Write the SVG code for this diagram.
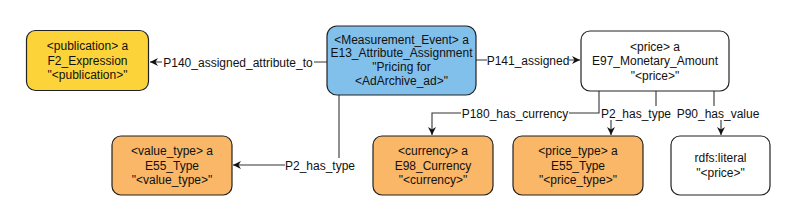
<svg xmlns="http://www.w3.org/2000/svg" width="797" height="221" viewBox="0 0 797 221">
<style>
.box{stroke:#222;stroke-width:1.2}
.t{font-family:"Liberation Sans",Arial,sans-serif;font-size:12px;fill:#111;text-anchor:middle}
.e{fill:none;stroke:#333;stroke-width:1.1}
.lbg{fill:#fff}
</style>
<defs>
<marker id="ar" markerWidth="10" markerHeight="10" refX="8" refY="5" orient="auto" markerUnits="userSpaceOnUse">
<path d="M0,1 L8,5 L0,9 L2.5,5 Z" fill="#111"/>
</marker>
</defs>
<rect width="797" height="221" fill="#fff"/>
<g id="connectors">
<path class="e" d="M327 62 H150" marker-end="url(#ar)"/>
<rect class="lbg" x="162" y="55" width="152" height="14"/>
<text class="t" x="238" y="66.5">P140_assigned_attribute_to</text>
<path class="e" d="M476 60 H580" marker-end="url(#ar)"/>
<rect class="lbg" x="487" y="53" width="82" height="14"/>
<text class="t" x="528" y="64.5">P141_assigned</text>
<path class="e" d="M339 95 V165 H233" marker-end="url(#ar)"/>
<rect class="lbg" x="285" y="158" width="70" height="14"/>
<text class="t" x="320" y="169.5">P2_has_type</text>
<path class="e" d="M599 91 V113 H432 V135" marker-end="url(#ar)"/>
<rect class="lbg" x="461" y="106" width="108" height="14"/>
<text class="t" x="515" y="117.5">P180_has_currency</text>
<path class="e" d="M656 91 V113 H611 V135" marker-end="url(#ar)"/>
<rect class="lbg" x="601" y="106" width="70" height="14"/>
<text class="t" x="636" y="117.5">P2_has_type</text>
<path class="e" d="M714 91 V113 H721 V135" marker-end="url(#ar)"/>
<rect class="lbg" x="676" y="106" width="84" height="14"/>
<text class="t" x="718" y="117.5">P90_has_value</text>
</g>
<g id="publication">
<rect class="box" x="26.5" y="30.5" width="122" height="60" rx="9" fill="#FCD43A"/>
<text class="t" x="87.5" y="50">&lt;publication&gt; a</text>
<text class="t" x="87.5" y="64.5">F2_Expression</text>
<text class="t" x="87.5" y="79">"&lt;publication&gt;"</text>
</g>
<g id="measurement">
<rect class="box" x="327" y="26" width="149" height="69" rx="10" fill="#82C0EC"/>
<text class="t" x="401.5" y="43.5">&lt;Measurement_Event&gt; a</text>
<text class="t" x="401.5" y="57">E13_Attribute_Assignment</text>
<text class="t" x="401.5" y="71">"Pricing for</text>
<text class="t" x="401.5" y="84.5">&lt;AdArchive_ad&gt;"</text>
</g>
<g id="price">
<rect class="box" x="581" y="31" width="148" height="60" rx="9" fill="#fff"/>
<text class="t" x="655" y="50.5">&lt;price&gt; a</text>
<text class="t" x="655" y="65">E97_Monetary_Amount</text>
<text class="t" x="655" y="79.5">"&lt;price&gt;"</text>
</g>
<g id="value_type">
<rect class="box" x="112" y="136" width="120" height="59" rx="9" fill="#F9B767"/>
<text class="t" x="172" y="155">&lt;value_type&gt; a</text>
<text class="t" x="172" y="169.5">E55_Type</text>
<text class="t" x="172" y="184">"&lt;value_type&gt;"</text>
</g>
<g id="currency">
<rect class="box" x="373" y="136" width="120" height="59" rx="9" fill="#F9B767"/>
<text class="t" x="433" y="155">&lt;currency&gt; a</text>
<text class="t" x="433" y="169.5">E98_Currency</text>
<text class="t" x="433" y="184">"&lt;currency&gt;"</text>
</g>
<g id="price_type">
<rect class="box" x="513" y="136" width="130" height="59" rx="9" fill="#F9B767"/>
<text class="t" x="578" y="155">&lt;price_type&gt; a</text>
<text class="t" x="578" y="169.5">E55_Type</text>
<text class="t" x="578" y="184">"&lt;price_type&gt;"</text>
</g>
<g id="literal">
<rect class="box" x="671" y="136" width="99" height="59" rx="9" fill="#fff"/>
<text class="t" x="720.5" y="162">rdfs:literal</text>
<text class="t" x="720.5" y="176.5">"&lt;price&gt;"</text>
</g>
</svg>
